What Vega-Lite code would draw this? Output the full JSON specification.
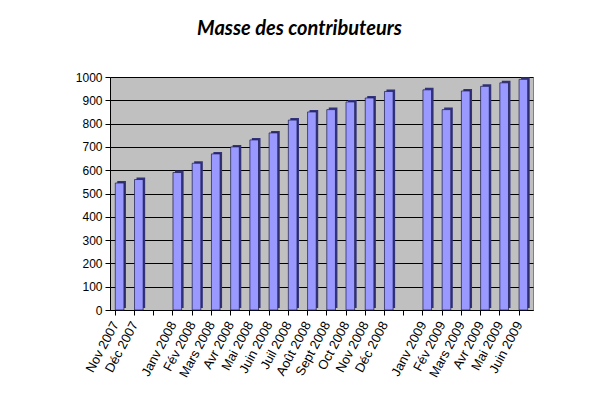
{
  "$schema": "https://vega.github.io/schema/vega-lite/v6.json",
  "autosize": {"type": "none"},
  "width": 423,
  "height": 233,
  "padding": {"left": 110, "top": 77, "right": 67, "bottom": 87},
  "background": "white",
  "title": {
    "text": "Masse des contributeurs",
    "font": "Lato",
    "fontSize": 20,
    "fontWeight": "bold",
    "fontStyle": "italic",
    "color": "black",
    "anchor": "middle",
    "frame": "group",
    "dx": -22,
    "offset": 32
  },
  "data": {
    "values": [
      {"mois": "Nov 2007", "valeur": 545},
      {"mois": "Déc 2007", "valeur": 560},
      {"mois": "Janv 2008", "valeur": 590},
      {"mois": "Fév 2008", "valeur": 630},
      {"mois": "Mars 2008", "valeur": 670},
      {"mois": "Avr 2008", "valeur": 700},
      {"mois": "Mai 2008", "valeur": 730},
      {"mois": "Juin 2008", "valeur": 760},
      {"mois": "Juil 2008", "valeur": 815},
      {"mois": "Août 2008", "valeur": 850},
      {"mois": "Sept 2008", "valeur": 860},
      {"mois": "Oct 2008", "valeur": 893},
      {"mois": "Nov 2008", "valeur": 910},
      {"mois": "Déc 2008", "valeur": 938},
      {"mois": "Janv 2009", "valeur": 945},
      {"mois": "Fév 2009", "valeur": 860},
      {"mois": "Mars 2009", "valeur": 940},
      {"mois": "Avr 2009", "valeur": 960},
      {"mois": "Mai 2009", "valeur": 975},
      {"mois": "Juin 2009", "valeur": 990}
    ]
  },
  "encoding": {
    "x": {
      "field": "mois",
      "type": "nominal",
      "sort": null,
      "scale": {
        "domain": ["Nov 2007", "Déc 2007", " ", "Janv 2008", "Fév 2008", "Mars 2008", "Avr 2008", "Mai 2008", "Juin 2008", "Juil 2008", "Août 2008", "Sept 2008", "Oct 2008", "Nov 2008", "Déc 2008", "  ", "Janv 2009", "Fév 2009", "Mars 2009", "Avr 2009", "Mai 2009", "Juin 2009"],
        "paddingInner": 0.55,
        "paddingOuter": 0.275
      },
      "axis": {
        "title": null,
        "labelAngle": -62,
        "labelAlign": "right",
        "labelBaseline": "middle",
        "labelFont": "Liberation Sans",
        "labelFontSize": 13,
        "labelColor": "black",
        "labelPadding": 7,
        "labelOffset": -4,
        "bandPosition": 0,
        "tickColor": "black",
        "tickSize": 5,
        "domainColor": "black",
        "grid": false
      }
    },
    "y": {
      "field": "valeur",
      "type": "quantitative",
      "scale": {"domain": [0, 1000], "nice": false},
      "axis": {
        "title": null,
        "values": [0, 100, 200, 300, 400, 500, 600, 700, 800, 900, 1000],
        "format": "d",
        "labelFont": "Liberation Sans",
        "labelFontSize": 12,
        "labelColor": "black",
        "tickColor": "black",
        "tickSize": 5,
        "labelPadding": 3,
        "domainColor": "black",
        "grid": true,
        "gridColor": "black",
        "gridWidth": 1
      }
    }
  },
  "layer": [
    {
      "mark": {"type": "bar", "color": "#33337a", "xOffset": 2, "yOffset": -2}
    },
    {
      "mark": {"type": "bar", "color": "#9999ff", "stroke": "#1a1a4d", "strokeWidth": 0.7}
    }
  ],
  "config": {
    "view": {"fill": "#c0c0c0", "stroke": "#808080"}
  }
}
